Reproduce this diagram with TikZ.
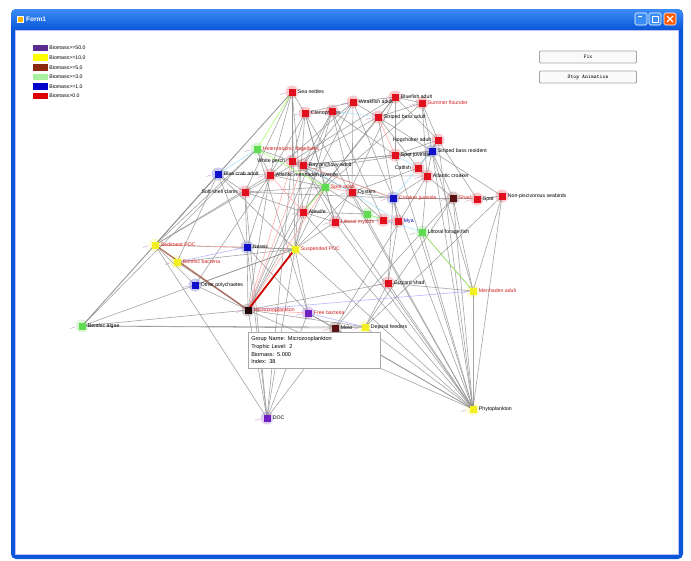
\documentclass[tikz,border=0pt]{standalone}
\usepackage{fontspec}
\setmainfont{Liberation Sans}
\usetikzlibrary{calc}
\pgfdeclarelayer{frame}
\pgfdeclarelayer{halo}
\pgfdeclarelayer{edges}
\pgfsetlayers{frame,halo,edges,main}

\definecolor{xpblue}{HTML}{0A56D8}
\definecolor{xplight}{HTML}{3C8CF5}
\definecolor{nR}{HTML}{E0101E}
\definecolor{nG}{HTML}{5FDC50}
\definecolor{nB}{HTML}{1010C8}
\definecolor{nY}{HTML}{F2F020}
\definecolor{nP}{HTML}{7020C0}
\definecolor{nD}{HTML}{5A1212}
\definecolor{nK}{HTML}{220606}
\definecolor{lgP}{HTML}{5B2C8F}
\definecolor{lgY}{HTML}{FFFF00}
\definecolor{lgD}{HTML}{8B2A10}
\definecolor{lgG}{HTML}{A6F0A0}
\definecolor{lgB}{HTML}{0000CC}
\definecolor{lgR}{HTML}{DD0000}
\definecolor{edgegray}{HTML}{8E8E8E}
\definecolor{lblred}{HTML}{D02020}

\tikzset{
  gsq/.style={rectangle, minimum size=7pt, inner sep=0pt},
  glab/.style={font=\fontsize{5.2}{6}\selectfont, inner sep=1pt},
  e/.style={edgegray, line width=0.6pt, opacity=0.8},
  ep/.style={e, draw=pink!80!red},
  ec/.style={e, draw=cyan!40},
  eg/.style={e, draw=green!45!lime!70},
  eb/.style={e, draw=blue!35},
  mk/.style={violet!35, line width=0.5pt},
  btn/.style={draw=gray!70, line width=0.8pt, fill=gray!4, rounded corners=1pt,
              font=\ttfamily\fontsize{5.5}{6}\selectfont, minimum width=97pt, minimum height=12pt, inner sep=0pt},
  legsw/.style={minimum width=15pt, minimum height=6.5pt, inner sep=0pt},
  legtx/.style={font=\fontsize{5.2}{6}\selectfont, inner sep=0.5pt, anchor=west},
}

% node with label on its right
\newcommand\gnode[6]{%
  \node[gsq, fill=#4] (#1) at (#2,#3) {};
  \begin{pgfonlayer}{halo}
    \fill[#4, opacity=.22] (#1.center) circle (6.5pt);
    \draw[mk] ([xshift=-7pt,yshift=-1pt]#1.center) -- ++(-5pt,-1.5pt);
  \end{pgfonlayer}
  \node[glab, text=#6, anchor=west] (#1-t) at ([xshift=1pt]#1.east) {#5};
}
% node with label on its left
\newcommand\gnodeL[6]{%
  \node[gsq, fill=#4] (#1) at (#2,#3) {};
  \begin{pgfonlayer}{halo}
    \fill[#4, opacity=.22] (#1.center) circle (6.5pt);
  \end{pgfonlayer}
  \node[glab, text=#6, anchor=east] (#1-t) at ([xshift=-2pt]#1.west) {#5};
}
% node without label
\newcommand\gnodeN[4]{%
  \node[gsq, fill=#4] (#1) at (#2,#3) {};
  \begin{pgfonlayer}{halo}
    \fill[#4, opacity=.22] (#1.center) circle (6.5pt);
  \end{pgfonlayer}
}

\begin{document}
\begin{tikzpicture}[x=1pt, y=-1pt]
\useasboundingbox (0,0) rectangle (691,560);

% ---------- window frame ----------
\begin{pgfonlayer}{frame}
  \fill[white] (0,0) rectangle (691,560);
  \fill[xpblue, rounded corners=5pt] (11,9) rectangle (683,559);
  \shade[top color=xplight, bottom color=xpblue, rounded corners=5pt] (11,9) rectangle (683,30);
  \fill[white] (15,30) rectangle (679,555);
  \draw[blue!25, line width=1pt] (15.5,30.5) rectangle (678.5,554.5);
\end{pgfonlayer}
% title bar
\node[fill=orange!60!yellow, draw=white, line width=0.3pt, minimum size=6pt, inner sep=0pt] (icon) at (20,19) {};
\node[font=\bfseries\fontsize{6.5}{7}\selectfont, text=white, anchor=west, inner sep=0pt] (title) at (26,19) {Form1};
\node[fill=xplight, draw=white, line width=0.6pt, rounded corners=1.5pt, minimum size=12pt, inner sep=0pt] (minb) at (641,19) {};
\node[fill=xplight, draw=white, line width=0.6pt, rounded corners=1.5pt, minimum size=12pt, inner sep=0pt] (maxb) at (655,19) {};
\node[fill=orange!70!red, draw=white, line width=0.6pt, rounded corners=1.5pt, minimum size=12pt, inner sep=0pt] (closeb) at (670,19) {};
\draw[white, line width=1pt] ([shift={(-3pt,3pt)}]minb.center) -- ++(4pt,0pt);
\draw[white, line width=0.8pt] ([shift={(-3pt,-3pt)}]maxb.center) rectangle ([shift={(3pt,3pt)}]maxb.center);
\draw[white, line width=1.1pt] ([shift={(-3pt,-3pt)}]closeb.center) -- ([shift={(3pt,3pt)}]closeb.center)
      ([shift={(-3pt,3pt)}]closeb.center) -- ([shift={(3pt,-3pt)}]closeb.center);

% ---------- buttons ----------
\node[btn] (fixbtn) at (588,57) {Fix};
\node[btn] (stopbtn) at (588,77) {Stop Animation};

% ---------- legend ----------
\foreach \c/\t [count=\i] in {lgP/{Biomass>=50.0}, lgY/{Biomass>=10.0}, lgD/{Biomass>=5.0},
                              lgG/{Biomass>=3.0}, lgB/{Biomass>=1.0}, lgR/{Biomass>0.0}} {
  \node[legsw, fill=\c] (lg\i) at (40,{38.5+9.6*\i}) {};
  \node[legtx] (lgt\i) at ([xshift=1pt]lg\i.east) {\t};
}

% ---------- groups ----------
\gnode{sn}{292}{92}{nR}{Sea nettles}{black}
\gnode{wfa}{353}{102}{nR}{Weakfish adult}{black}
\gnode{bfa}{395}{97}{nR}{Bluefish adult}{black}
\gnode{sfl}{422}{103}{nR}{Summer flounder}{lblred}
\gnode{cte}{305}{113}{nR}{Ctenophores}{black}
\gnodeN{zoo}{332}{111}{nR}
\gnode{sba}{378}{117}{nR}{Striped bass adult}{black}
\gnode{hfl}{257}{149}{nG}{Heterotrophic flagellates}{lblred}
\gnodeL{wpe}{292}{161}{nR}{White perch}{black}
\gnode{bay}{303}{165}{nR}{Bay anchovy adult}{black}
\gnode{bca}{218}{174}{nB}{Blue crab adult}{black}
\gnode{amj}{270}{175}{nR}{Atlantic menhaden juvenile}{black}
\gnodeL{scl}{245}{192}{nR}{Soft shell clams}{black}
\gnode{spa}{325}{187}{nG}{Spot adult}{lblred}
\gnode{oys}{352}{192}{nR}{Oysters}{black}
\gnode{crj}{393}{198}{nB}{Croaker juvenile}{lblred}
\gnode{spj}{395}{155}{nR}{Spot juvenile}{black}
\gnode{sbr}{432}{151}{nB}{Striped bass resident}{black}
\gnodeL{hog}{438}{140}{nR}{Hogchoker adult}{black}
\gnodeL{cat}{418}{168}{nR}{Catfish}{black}
\gnode{acr}{427}{176}{nR}{Atlantic croaker}{black}
\gnode{shd}{453}{198}{nD}{Shad}{lblred}
\gnode{spt}{477}{199}{nR}{Spot}{black}
\gnode{nps}{502}{196}{nR}{Non-piscivorous seabirds}{black}
\gnode{ale}{303}{212}{nR}{Alewife}{black}
\gnodeN{mac}{367}{214}{nG}
\gnode{lmy}{335}{222}{nR}{Littoral mysids}{lblred}
\gnodeN{mer}{383}{220}{nR}
\gnode{mya}{398}{221}{nR}{Mya}{blue!70!black}
\gnode{lff}{422}{232}{nG}{Littoral forage fish}{black}
\gnode{spoc}{155}{245}{nY}{Sediment POC}{lblred}
\gnode{sbac}{177}{262}{nY}{Benthic bacteria}{lblred}
\gnode{ner}{247}{247}{nB}{Nereis}{black}
\gnode{supc}{295}{249}{nY}{Suspended POC}{lblred}
\gnode{opo}{195}{285}{nB}{Other polychaetes}{black}
\gnode{mzo}{248}{310}{nK}{Microzooplankton}{lblred}
\gnode{fba}{308}{313}{nP}{Free bacteria}{lblred}
\gnode{dep}{335}{328}{nD}{Meio}{black}
\gnode{dfe}{365}{327}{nY}{Deposit feeders}{black}
\gnode{gsh}{388}{283}{nR}{Gizzard shad}{black}
\gnode{mha}{473}{291}{nY}{Menhaden adult}{lblred}
\gnode{bal}{82}{326}{nG}{Benthic algae}{black}
\gnode{doc}{267}{418}{nP}{DOC}{black}
\gnode{phy}{473}{409}{nY}{Phytoplankton}{black}

% ---------- flows ----------
\begin{pgfonlayer}{edges}
\foreach \a/\b in {
  bal/spoc, bal/bca, bal/hfl, bal/mzo, bal/dep, bal/dfe, bal/supc,
  spoc/bca, spoc/hfl, spoc/supc, spoc/sn, spoc/amj, spoc/scl,
  sbac/mzo, sbac/supc, sbac/bca,
  opo/mzo, opo/spoc, opo/amj, opo/supc,
  doc/mzo, doc/supc, doc/fba, doc/dep, doc/scl, doc/spoc, doc/wpe, doc/ner,
  phy/mzo, phy/dep, phy/dfe, phy/fba, phy/mha, phy/gsh, phy/lff, phy/crj, phy/shd,
  phy/bay, phy/supc, phy/ale, phy/nps, phy/hog, phy/oys, phy/lmy, phy/cte, phy/sbr, phy/spj,
  mha/lff, mha/nps, mha/shd, mha/sbr,
  mzo/ale, mzo/amj, mzo/zoo, mzo/wfa, mzo/ner, mzo/gsh, mzo/dfe,
  sn/cte, sn/bca, sn/scl, sn/wpe, sn/amj, sn/supc, sn/ale,
  wfa/cte, wfa/bfa, wfa/sba, wfa/amj, wfa/bay, wfa/oys, wfa/crj,
  bfa/sfl, bfa/sba, bfa/spj, bfa/hog, bfa/ale, bfa/lmy, bfa/wpe,
  sfl/sbr, sfl/hog, sfl/sba, sfl/acr, sfl/spa,
  cte/wpe, cte/amj, cte/spa, cte/supc, cte/lmy,
  zoo/bay, zoo/oys, zoo/spj, zoo/mer, zoo/supc,
  sba/sbr, sba/cat, sba/ale, sba/mya, sba/scl,
  hfl/amj, hfl/wpe, hfl/fba,
  wpe/spa, wpe/oys, wpe/crj,
  bay/spj, bay/sbr, bay/lmy,
  bca/amj, bca/ner, bca/scl, bca/supc,
  amj/spa, amj/sbr, amj/acr,
  scl/spa, scl/ner, scl/ale, scl/crj,
  spa/mac, spa/lmy, spa/supc,
  oys/crj, oys/mer, oys/cat,
  crj/acr, crj/mya, crj/shd,
  spj/sbr, spj/hog,
  sbr/hog, sbr/acr, sbr/shd, sbr/nps,
  hog/cat, hog/spt, cat/acr, acr/shd, shd/spt, spt/nps, acr/lff, shd/lff,
  ale/mac, ale/lmy, lmy/mer,
  supc/ale, supc/lmy, supc/oys, supc/fba,
  fba/dep, dep/dfe, dfe/gsh, gsh/mha, gsh/mya, gsh/crj,
  ner/supc, ner/amj, ner/fba,
  dep/acr, dep/lff, dfe/shd, dfe/nps}
  \draw[e] (\a.center) -- (\b.center);
\foreach \a/\b in {cte/zoo, wpe/bay, sba/spj, amj/ale, mer/mya, spoc/ner,
                   mzo/bay, mzo/spa, mzo/wpe, mzo/fba, spa/oys, bay/crj}
  \draw[ep] (\a.center) -- (\b.center);
\foreach \a/\b in {hfl/bca, sbr/crj, spj/cat, zoo/sba, mac/lff, oys/mya, bay/oys}
  \draw[ec] (\a.center) -- (\b.center);
\foreach \a/\b in {sn/hfl, mac/mer, lff/mha, spa/ale, hfl/spa}
  \draw[eg] (\a.center) -- (\b.center);
\foreach \a/\b in {mzo/mha, ner/sbac, fba/dfe}
  \draw[eb] (\a.center) -- (\b.center);
% flows of the selected group
\draw[lgD!80, line width=1.4pt, opacity=0.8] (spoc.center) -- (mzo.center);
\draw[red!80!black, line width=1.8pt] (mzo.center) -- (supc.center);
\end{pgfonlayer}

% ---------- tooltip ----------
\node[draw=gray!70, fill=white, line width=0.5pt, anchor=north west, minimum width=132pt,
      minimum height=36pt, inner sep=2.5pt, align=left, text width=126pt,
      font=\fontsize{5.6}{7.8}\selectfont] (tip) at (248,332)
  {Group Name: Microzooplankton\\Trophic Level: 2\\Biomass: 5.000\\Index: 38};
\end{tikzpicture}
\end{document}
